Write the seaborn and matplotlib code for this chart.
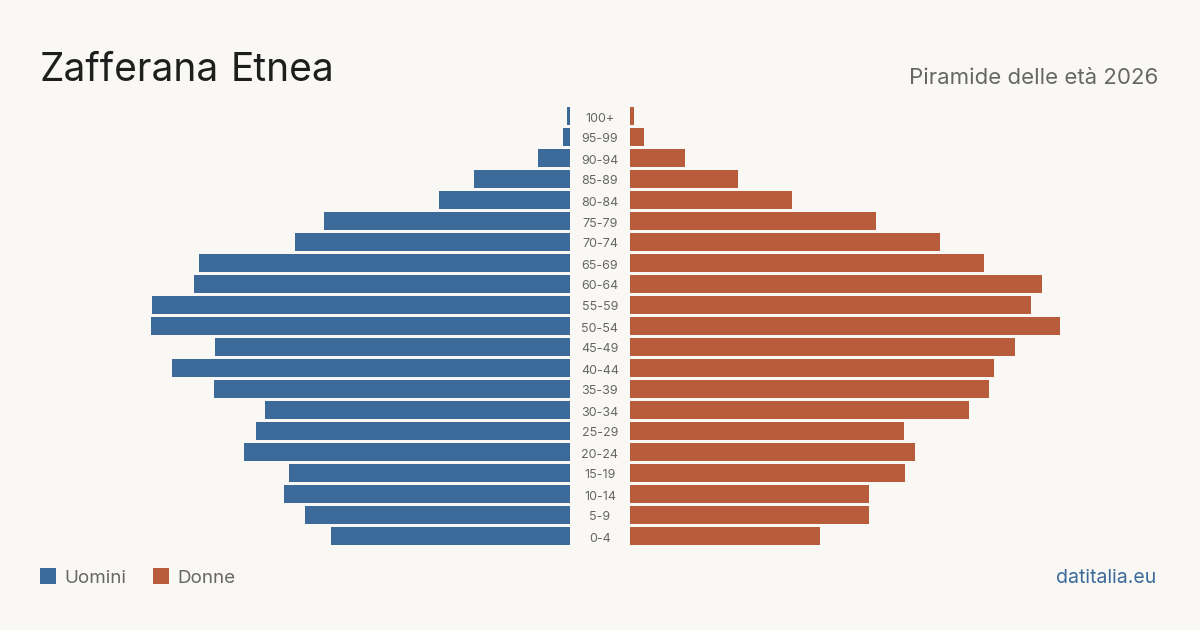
import matplotlib
matplotlib.use("Agg")
import matplotlib.pyplot as plt
import seaborn as sns
import pandas as pd
from matplotlib.patches import Rectangle

age_groups = ["100+", "95-99", "90-94", "85-89", "80-84", "75-79", "70-74", "65-69",
              "60-64", "55-59", "50-54", "45-49", "40-44", "35-39", "30-34", "25-29",
              "20-24", "15-19", "10-14", "5-9", "0-4"]
men = [3, 7, 32, 96, 131, 246, 275, 371, 376, 418, 419, 355, 398, 356, 305, 314,
       326, 281, 286, 265, 239]
women = [4, 14, 55, 108, 162, 246, 310, 354, 412, 401, 430, 385, 364, 359, 339, 274,
         285, 275, 239, 239, 190]

title = "Zafferana Etnea"
subtitle = "Piramide delle età 2026"
legend_labels = ["Uomini", "Donne"]
source = "datitalia.eu"

BG = "#f9f8f4"
BLUE = "#3b6a9b"
RED = "#b95c3c"
GRAY = "#666666"

sns.set_theme(style="white")
plt.rcParams["font.family"] = ["Inter", "DejaVu Sans"]

W, H = 1200, 630
fig = plt.figure(figsize=(12, 6.3), dpi=100, facecolor=BG)

df = pd.DataFrame({"age": age_groups, "men": men, "women": women})

n = len(age_groups)
step = 21
top_px = 116 - step / 2
bot_px = top_px + n * step
span = 470

def ax_rect(x0, x1):
    return [x0 / W, 1 - bot_px / H, (x1 - x0) / W, (bot_px - top_px) / H]

axL = fig.add_axes(ax_rect(570 - span, 570))
axR = fig.add_axes(ax_rect(630, 630 + span))

sns.barplot(data=df, y="age", x="men", order=age_groups, color=BLUE, orient="h",
            width=0.81, ax=axL, saturation=1, linewidth=0, edgecolor="none")
sns.barplot(data=df, y="age", x="women", order=age_groups, color=RED, orient="h",
            width=0.81, ax=axR, saturation=1, linewidth=0, edgecolor="none")

axL.set_xlim(span, 0)
axR.set_xlim(0, span)
for ax in (axL, axR):
    ax.set_ylim(n - 0.5, -0.5)
    ax.set_facecolor("none")
    ax.axis("off")

for i, lab in enumerate(age_groups):
    y = 1 - (118.5 + i * step) / H
    fig.text(600 / W, y, lab, ha="center", va="center", fontsize=9, color=GRAY)

fig.text(40 / W, 1 - 81 / H, "Zafferana", ha="left", va="baseline", fontsize=28, color="#1e1e1e")
fig.text(231 / W, 1 - 81 / H, "Etnea", ha="left", va="baseline", fontsize=28, color="#1e1e1e")
fig.text(1158 / W, 1 - 84 / H, subtitle, ha="right", va="baseline", fontsize=16, color=GRAY)

fig.patches.append(Rectangle((40 / W, 1 - 584 / H), 16 / W, 16 / H, transform=fig.transFigure,
                             facecolor=BLUE, edgecolor="none"))
fig.text(64 / W, 1 - 583 / H, legend_labels[0], ha="left", va="baseline", fontsize=13.5, color=GRAY)
fig.patches.append(Rectangle((153 / W, 1 - 584 / H), 16 / W, 16 / H, transform=fig.transFigure,
                             facecolor=RED, edgecolor="none"))
fig.text(177 / W, 1 - 583 / H, legend_labels[1], ha="left", va="baseline", fontsize=13.5, color=GRAY)

fig.text(1156 / W, 1 - 583 / H, source, ha="right", va="baseline", fontsize=14, color=BLUE)

fig.savefig("out.png", dpi=100, facecolor=BG)
